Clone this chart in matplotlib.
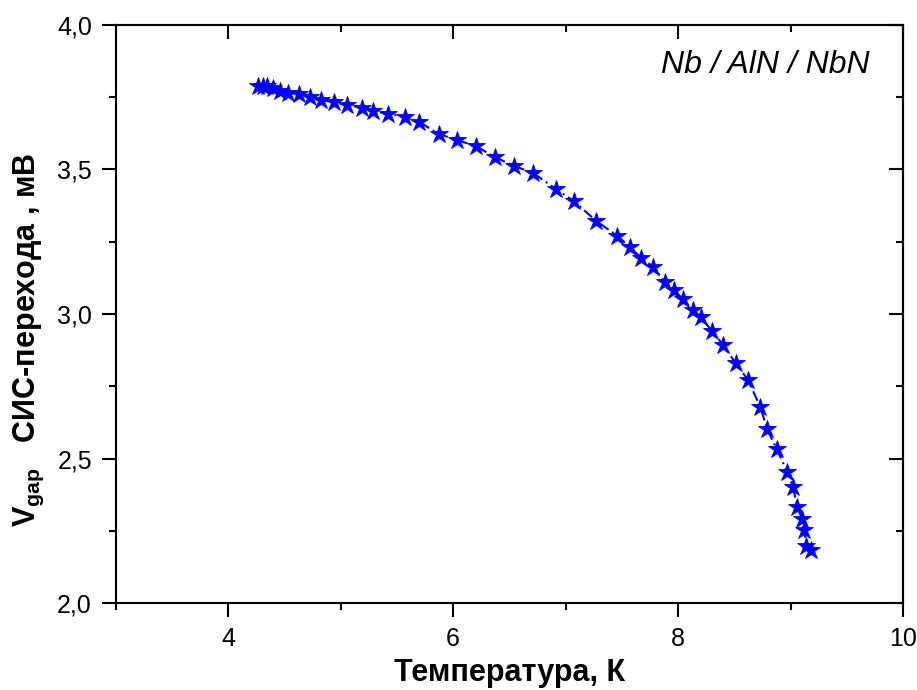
import matplotlib
matplotlib.use("Agg")
import matplotlib.pyplot as plt
from matplotlib.ticker import FixedLocator, FuncFormatter

plt.rcParams['font.family'] = ['Liberation Sans', 'DejaVu Sans']
plt.rcParams['mathtext.fontset'] = 'custom'
plt.rcParams['mathtext.rm'] = 'Liberation Sans'
plt.rcParams['mathtext.bf'] = 'Liberation Sans:bold'
plt.rcParams['mathtext.it'] = 'Liberation Sans:italic'

# Gap voltage of the Nb/AlN/NbN junction versus temperature
temperature = [4.27, 4.31, 4.35, 4.40, 4.46, 4.53, 4.63, 4.73, 4.83, 4.94,
               5.06, 5.19, 5.29, 5.42, 5.57, 5.70, 5.87, 6.03, 6.20, 6.37,
               6.54, 6.71, 6.91, 7.07, 7.27, 7.46, 7.57, 7.67, 7.78, 7.88,
               7.96, 8.04, 8.13, 8.20, 8.30, 8.40, 8.51, 8.62, 8.73, 8.79,
               8.875, 8.97, 9.02, 9.06, 9.10, 9.12, 9.14, 9.18]
v_gap = [3.787, 3.787, 3.787, 3.783, 3.772, 3.763, 3.761, 3.751, 3.740, 3.732,
         3.723, 3.713, 3.702, 3.692, 3.682, 3.664, 3.623, 3.602, 3.581, 3.543,
         3.512, 3.488, 3.433, 3.391, 3.322, 3.270, 3.232, 3.194, 3.163, 3.111,
         3.083, 3.052, 3.014, 2.990, 2.941, 2.893, 2.830, 2.772, 2.678, 2.602,
         2.533, 2.453, 2.401, 2.332, 2.291, 2.253, 2.197, 2.183]

x_major = [4, 6, 8, 10]
x_minor = [3, 5, 7, 9]
y_major = [2.0, 2.5, 3.0, 3.5, 4.0]
y_minor = [2.25, 2.75, 3.25, 3.75]

fig = plt.figure(figsize=(9.17, 6.90), dpi=100)
ax = fig.add_axes([0.126, 0.126, 0.859, 0.838])

ax.plot(temperature, v_gap, color='#0000ff', linestyle=(0, (5, 2, 1, 2)),
        linewidth=1.5, marker='*', markersize=13.5, markeredgewidth=0.6,
        markerfacecolor='#0000ff', markeredgecolor='#0000ff')

ax.set_xlim(3, 10)
ax.set_ylim(2.0, 4.0)

ax.xaxis.set_major_locator(FixedLocator(x_major))
ax.xaxis.set_minor_locator(FixedLocator(x_minor))
ax.yaxis.set_major_locator(FixedLocator(y_major))
ax.yaxis.set_minor_locator(FixedLocator(y_minor))
ax.xaxis.set_major_formatter(FuncFormatter(lambda v, p: f"{v:g}"))
ax.yaxis.set_major_formatter(FuncFormatter(lambda v, p: f"{v:.1f}".replace('.', ',')))

for s in ax.spines.values():
    s.set_linewidth(1.5)

ax.tick_params(which='both', direction='out', top=False, right=False,
               width=1.5, labelsize=18, pad=7)
ax.tick_params(which='major', length=10)
ax.tick_params(which='minor', length=5)

# Inward ticks on the top and right edges
sec_x = ax.secondary_xaxis('top')
sec_x.xaxis.set_major_locator(FixedLocator(x_major))
sec_x.xaxis.set_minor_locator(FixedLocator(x_minor))
sec_x.tick_params(which='both', direction='in', width=1.5, labeltop=False)
sec_x.tick_params(which='major', length=10)
sec_x.tick_params(which='minor', length=5)
sec_x.spines['top'].set_linewidth(1.5)
sec_y = ax.secondary_yaxis('right')
sec_y.yaxis.set_major_locator(FixedLocator(y_major))
sec_y.yaxis.set_minor_locator(FixedLocator(y_minor))
sec_y.tick_params(which='both', direction='in', width=1.5, labelright=False)
sec_y.tick_params(which='major', length=10)
sec_y.tick_params(which='minor', length=5)
sec_y.spines['right'].set_linewidth(1.5)

fig.text(0.5 * (115.5 + 903.5) / 917, 1 - 681 / 690, 'Температура, К',
         fontsize=22, fontweight='bold', ha='center', va='baseline')
fig.text(35 / 917, 1 - 340 / 690,
         r'$\mathbf{V}_{\mathbf{gap}}$   СИС-перехода , мВ',
         fontsize=22, fontweight='bold', rotation=90,
         rotation_mode='anchor', ha='center', va='baseline')

ax.text(0.9575, 0.917, 'Nb / AlN / NbN', transform=ax.transAxes,
        fontsize=23, fontstyle='italic', ha='right', va='baseline')

fig.savefig('out.png', dpi=100)
